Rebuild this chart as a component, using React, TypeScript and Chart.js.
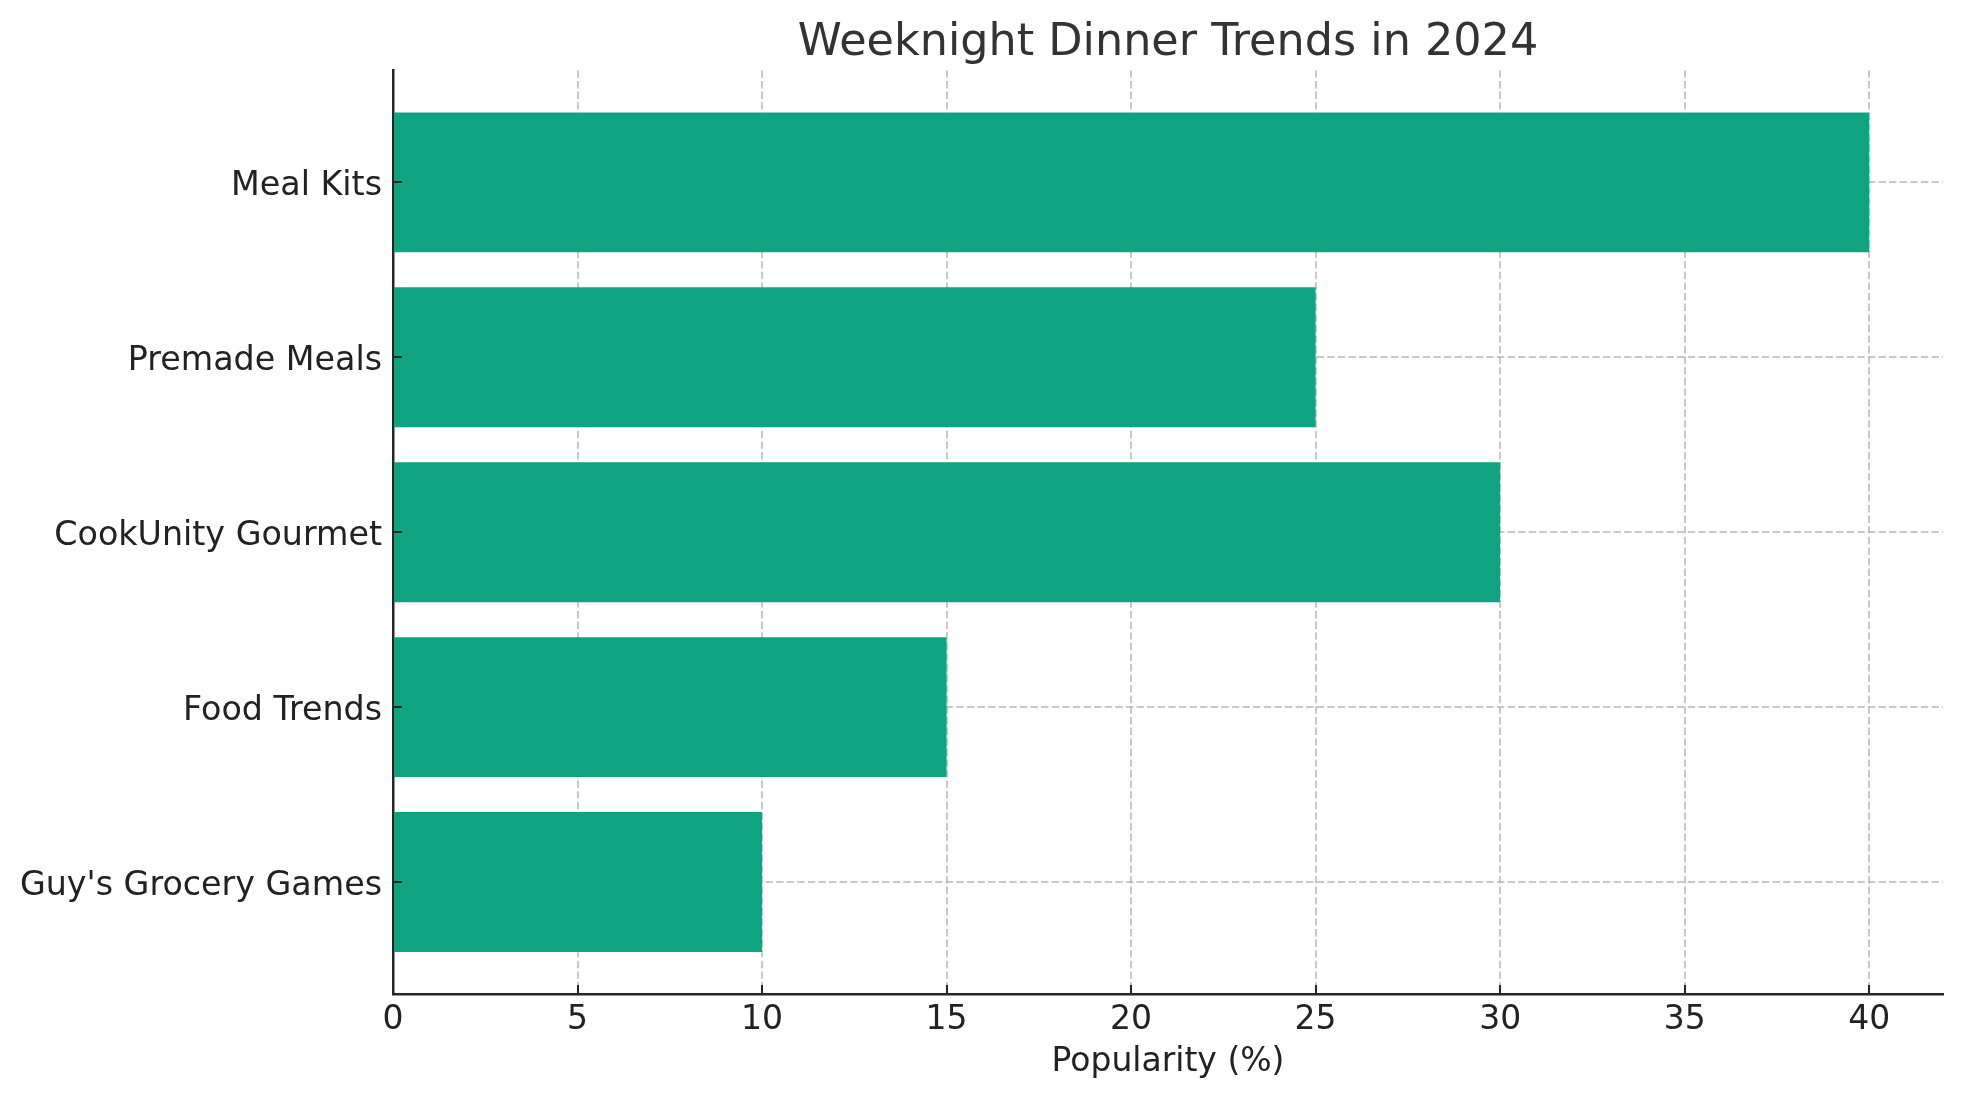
import { useEffect, useRef } from 'react';
import { Chart, registerables } from 'chart.js';

Chart.register(...registerables);

const categories = ['Meal Kits', 'Premade Meals', 'CookUnity Gourmet', 'Food Trends', "Guy's Grocery Games"];
const popularity = [40, 25, 30, 15, 10];
const xTicks = [0, 5, 10, 15, 20, 25, 30, 35, 40];

const FONT = "'DejaVu Sans', sans-serif";
const GRID = 'rgba(176,176,176,0.7)';
const INK = '#262626';
const DASH = [7.4, 3.2];

// matplotlib draws its tick marks pointing into the plot
const innerTicks = {
  id: 'innerTicks',
  afterDraw(chart: Chart) {
    const { ctx, chartArea, scales } = chart;
    ctx.save();
    ctx.strokeStyle = INK;
    ctx.lineWidth = 2;
    ctx.beginPath();
    xTicks.forEach((v) => {
      const px = Math.round(scales.x.getPixelForValue(v));
      ctx.moveTo(px, chartArea.bottom);
      ctx.lineTo(px, chartArea.bottom - 9);
    });
    categories.forEach((_, i) => {
      const py = Math.round(scales.y.getPixelForValue(i));
      ctx.moveTo(chartArea.left, py);
      ctx.lineTo(chartArea.left + 9, py);
    });
    ctx.stroke();
    ctx.restore();
  },
};

export default function App() {
  const canvasRef = useRef<HTMLCanvasElement>(null);

  useEffect(() => {
    if (!canvasRef.current) return;
    const chart = new Chart(canvasRef.current, {
      type: 'bar',
      data: {
        datasets: [{
          label: 'Popularity (%)',
          data: popularity.map((v, i) => ({ x: v, y: i })),
          backgroundColor: '#10a37f',
          borderWidth: 0,
          categoryPercentage: 1,
          barPercentage: 0.8,
        }],
      },
      options: {
        indexAxis: 'y',
        animation: false,
        responsive: false,
        layout: { padding: { top: 0, left: 0, right: 19, bottom: 0 } },
        plugins: {
          legend: { display: false },
          tooltip: { enabled: false },
          title: {
            display: true,
            text: 'Weeknight Dinner Trends in 2024',
            fullSize: false,
            color: '#333333',
            font: { family: FONT, size: 44.5, weight: 'normal', lineHeight: 1.2 },
            padding: { top: 17, bottom: 0 },
          },
        },
        scales: {
          x: {
            type: 'linear',
            min: 0,
            max: 42,
            z: 1,
            offset: false,
            afterFit: (s) => { s.height = 107; },
            ticks: {
              stepSize: 5,
              includeBounds: false,
              padding: 7,
              color: '#222222',
              font: { family: FONT, size: 33 },
            },
            grid: { color: GRID, lineWidth: 2, drawTicks: false, offset: false },
            border: { display: true, color: INK, width: 2.5, dash: DASH },
            title: {
              display: true,
              text: 'Popularity (%)',
              color: '#222222',
              font: { family: FONT, size: 33, lineHeight: 1.2 },
              padding: { top: 0, bottom: 19 },
            },
          },
          y: {
            type: 'linear',
            min: -0.64,
            max: 4.64,
            reverse: true,
            z: 1,
            offset: false,
            afterFit: (s) => { s.width = 393; },
            ticks: {
              stepSize: 1,
              includeBounds: false,
              padding: 11,
              labelOffset: 4,
              color: '#222222',
              font: { family: FONT, size: 33.3 },
              callback: (v) => categories[Number(v)] ?? '',
            },
            grid: { color: GRID, lineWidth: 2, drawTicks: false, offset: false },
            border: { display: true, color: INK, width: 2.5, dash: DASH },
          },
        },
      },
      plugins: [innerTicks],
    });
    return () => { chart.destroy(); };
  }, []);

  return (
    <div style={{ position: 'absolute', left: 0, top: 0, width: 1962, height: 1101, background: '#fff' }}>
      <canvas ref={canvasRef} width={1962} height={1101} />
    </div>
  );
}
